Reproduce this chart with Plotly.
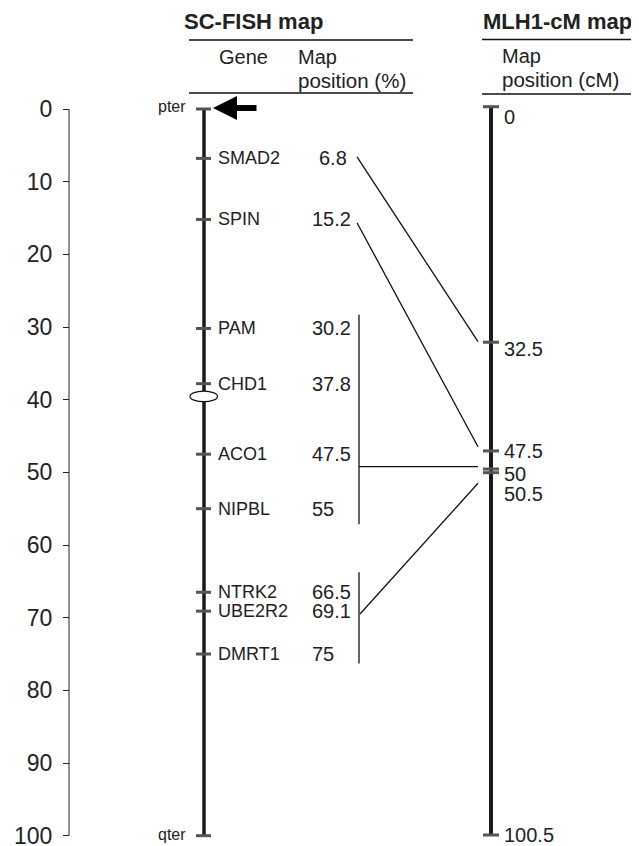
import plotly.graph_objects as go

# ---------------- data ----------------
genes = ["SMAD2", "SPIN", "PAM", "CHD1", "ACO1", "NIPBL", "NTRK2", "UBE2R2", "DMRT1"]
sc_pos = [6.8, 15.2, 30.2, 37.8, 47.5, 55, 66.5, 69.1, 75]
sc_labels = ["6.8", "15.2", "30.2", "37.8", "47.5", "55", "66.5", "69.1", "75"]

cm_pos = [0, 32.5, 47.5, 50, 50.5, 100.5]
cm_labels = ["0", "32.5", "47.5", "50", "50.5", "100.5"]
cm_label_pos = [1.4, 33.4, 47.5, 50.7, 53.5, 100.5]

axis_ticks = [0, 10, 20, 30, 40, 50, 60, 70, 80, 90, 100]

# connecting lines (in % units of the left axis)
link_start = [6.6, 15.65, 49.22, 69.5]
link_end = [32.0, 46.47, 49.22, 51.5]
link_x0 = [357, 357, 359, 360]
group_lo = [28.3, 63.75]
group_hi = [57.15, 76.3]
centromere = 39.55

# ---------------- layout constants (page pixels) ----------------
OFF = 8                      # default page margin around the plot div
PW, PH = 639, 846            # page size
W, H = PW - OFF, PH - OFF    # figure size
X_AX, X_SC, X_CM = 69, 204, 491
Y0, S1 = 109.0, 7.267        # left scale: page y of 0 and px per unit
Y0B, S2 = 106.7, 7.2468      # MLH1 scale
FONT = "Liberation Sans, Arial, sans-serif"
TXT = "#222222"
TICKC = "#555555"

fig = go.Figure()

# left axis line
fig.add_trace(go.Scatter(x=[X_AX, X_AX], y=[0, 100], mode="lines",
                         line=dict(color=TXT, width=1), hoverinfo="skip", showlegend=False))

# SC-FISH chromosome
fig.add_trace(go.Scatter(x=[X_SC, X_SC], y=[0, 100], mode="lines",
                         line=dict(color="#1a1a1a", width=3.5), hoverinfo="skip", showlegend=False))
tx, ty = [], []
for p in [0] + sc_pos + [100]:
    tx += [X_SC - 8, X_SC + 7, None]
    ty += [p, p, None]
fig.add_trace(go.Scatter(x=tx, y=ty, mode="lines", line=dict(color=TICKC, width=3),
                         hoverinfo="skip", showlegend=False))

# MLH1 chromosome (own scale)
fig.add_trace(go.Scatter(x=[X_CM, X_CM], y=[cm_pos[0], cm_pos[-1]], mode="lines", yaxis="y2",
                         line=dict(color="#1a1a1a", width=4), hoverinfo="skip", showlegend=False))
tx, ty = [], []
for p in cm_pos:
    tx += [X_CM - 8, X_CM + 8, None]
    ty += [p, p, None]
fig.add_trace(go.Scatter(x=tx, y=ty, mode="lines", yaxis="y2", line=dict(color=TICKC, width=3),
                         hoverinfo="skip", showlegend=False))

# group brackets
bx, by = [], []
for lo, hi in zip(group_lo, group_hi):
    bx += [359, 359, None]
    by += [lo, hi, None]
fig.add_trace(go.Scatter(x=bx, y=by, mode="lines", line=dict(color="#111", width=1.3),
                         hoverinfo="skip", showlegend=False))

# links
lx, ly = [], []
for x0, a, b in zip(link_x0, link_start, link_end):
    lx += [x0, 478, None]
    ly += [a, b, None]
fig.add_trace(go.Scatter(x=lx, y=ly, mode="lines", line=dict(color="#111", width=1.3),
                         hoverinfo="skip", showlegend=False))

ann = []
# gene labels and values
for g, p, v in zip(genes, sc_pos, sc_labels):
    ann.append(dict(x=X_SC + 12, y=p, xref="x", yref="y", text=g, showarrow=False,
                    xanchor="left", yanchor="middle", font=dict(family=FONT, size=18, color=TXT)))
    if v == "6.8":
        ann.append(dict(x=349, y=p, xref="x", yref="y", text=v, showarrow=False,
                        xanchor="right", yanchor="middle", font=dict(family=FONT, size=20, color=TXT)))
    else:
        ann.append(dict(x=310, y=p, xref="x", yref="y", text=v, showarrow=False,
                        xanchor="left", yanchor="middle", font=dict(family=FONT, size=20, color=TXT)))
# cM labels
for lab, p in zip(cm_labels, cm_label_pos):
    ann.append(dict(x=502, y=p, xref="x", yref="y2", text=lab, showarrow=False,
                    xanchor="left", yanchor="middle", font=dict(family=FONT, size=20, color=TXT)))
# pter / qter
ann.append(dict(x=188, y=-0.3, xref="x", yref="y", text="pter", showarrow=False,
                xanchor="right", yanchor="middle", font=dict(family=FONT, size=16, color=TXT)))
ann.append(dict(x=188, y=99.9, xref="x", yref="y", text="qter", showarrow=False,
                xanchor="right", yanchor="middle", font=dict(family=FONT, size=16, color=TXT)))
# arrow
ann.append(dict(x=213, y=-0.15, ax=258, ay=-0.15, xref="x", yref="y", axref="x", ayref="y",
                text="", showarrow=True, arrowhead=2, arrowsize=0.8, arrowwidth=6,
                arrowcolor="#000"))

# headers (positions in page pixels)
def ppy(ypx):
    return 1 - (ypx - OFF) / H

def hdr(text, x, ypx, size, bold=False):
    return dict(x=x, y=ppy(ypx), xref="x", yref="paper", text=("<b>%s</b>" % text) if bold else text,
                showarrow=False, xanchor="left", yanchor="middle",
                font=dict(family=FONT, size=size, color=TXT))

ann += [
    hdr("SC-FISH map", 182, 21, 22, True),
    hdr("Gene", 217, 57, 20),
    hdr("Map", 296, 57, 20),
    hdr("position (%)", 296, 80, 20.5),
    hdr("MLH1-cM map", 481, 21, 22, True),
    hdr("Map", 500, 56, 20),
    hdr("position (cM)", 500, 79, 20.5),
]

shapes = []
for x0, x1, yp in [(189, 413, 40), (189, 413, 93), (482, 639, 39.5), (482, 639, 94)]:
    shapes.append(dict(type="line", xref="x", yref="paper", x0=x0, x1=x1,
                       y0=ppy(yp), y1=ppy(yp), line=dict(color="#111", width=1.3)))
shapes.append(dict(type="circle", xref="x", yref="y", x0=190, x1=217.5,
                   y0=centromere - 0.73, y1=centromere + 0.73,
                   fillcolor="white", line=dict(color="#111", width=1.2), layer="above"))

fig.update_layout(
    width=W, height=H, margin=dict(l=0, r=0, t=0, b=0),
    paper_bgcolor="white", plot_bgcolor="white",
    showlegend=False, annotations=ann, shapes=shapes,
    xaxis=dict(range=[OFF, PW], visible=False, domain=[0, 1]),
    yaxis=dict(range=[(PH - Y0) / S1, (OFF - Y0) / S1], anchor="free",
               position=(X_AX - OFF) / W,
               side="left", tickvals=axis_ticks, ticktext=[str(t) for t in axis_ticks],
               ticks="outside", ticklen=6, tickwidth=1, tickcolor=TXT,
               showgrid=False, zeroline=False, showline=False, automargin=False,
               ticklabelstandoff=6, ticklabeloverflow="allow",
               tickfont=dict(family=FONT, size=23, color=TXT)),
    yaxis2=dict(range=[(PH - Y0B) / S2, (OFF - Y0B) / S2], overlaying="y", visible=False),
)

fig.write_html("out.html")
